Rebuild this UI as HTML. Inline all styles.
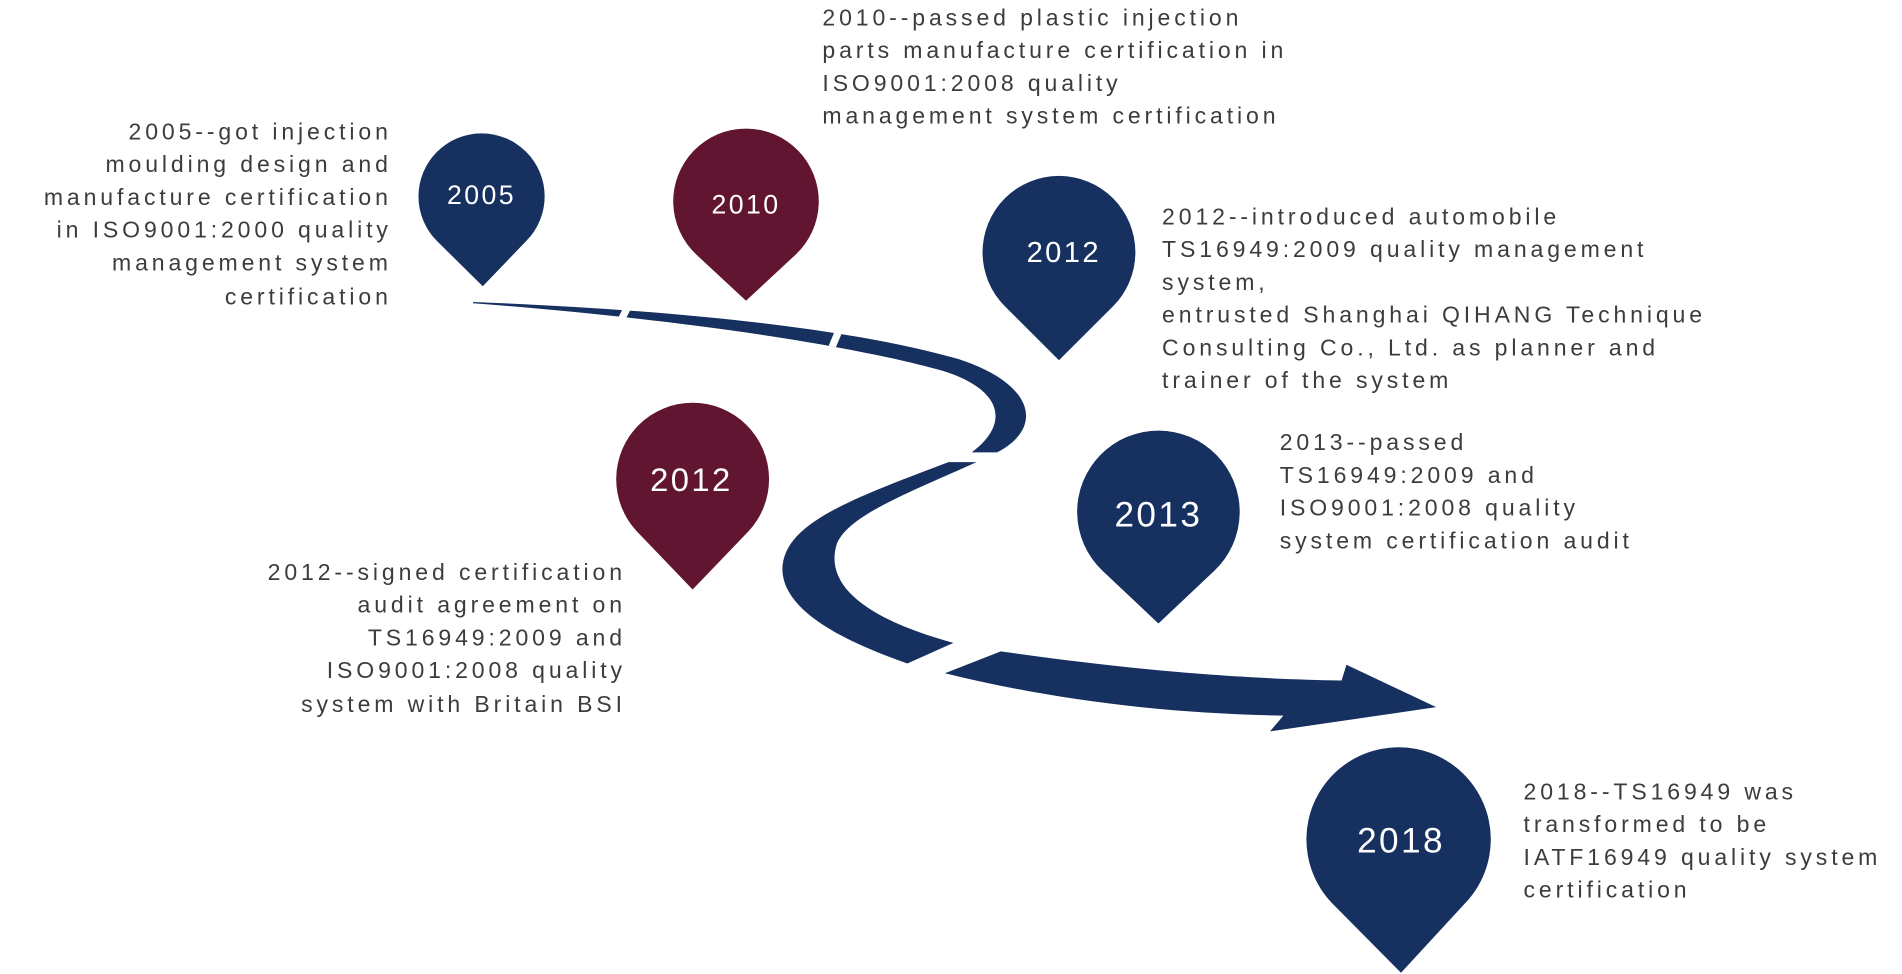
<!DOCTYPE html>
<html><head><meta charset="utf-8"><style>
html,body{margin:0;padding:0;background:#fff;overflow:hidden}
svg{display:block}
.t{font-family:"Liberation Sans",sans-serif;font-size:19px;letter-spacing:3.2px;fill:#3c3c3c}
.y{font-family:"Liberation Sans",sans-serif;fill:#fff;text-anchor:middle;letter-spacing:2px}
</style></head><body>
<svg width="1902" height="974" viewBox="0 0 1568 803" preserveAspectRatio="none" xmlns="http://www.w3.org/2000/svg">
<g fill="#16305f">
<path d="M390,249 C550,255 700,270 790,296 C852,316 862,352 822,373 L801,373 C832,350 828,322 778,306 C700,284 560,263 390,250 Z"/>
<path d="M782,381 L805,381 C745,408 700,425 690,448 C678,485 720,512 786,530 L748,547 C685,525 646,500 645,470 C645,432 700,412 782,381 Z"/>
<path d="M825,537 C950,555 1040,560 1106,561 L1110,548 L1184,583 L1047,603 L1058,590 C950,588 860,575 779,555 Z"/>
</g>
<g stroke="#fff" stroke-width="6">
<line x1="520" y1="248" x2="512" y2="264"/>
<line x1="696" y1="262" x2="686" y2="286"/>
</g>
<path d="M398,236 L360,198.5 A52,52 0 1 1 434,198.5 Z" fill="#16305f"/>
<path d="M615,248 L574.1,209.9 A60,60 0 1 1 655.9,209.9 Z" fill="#611530"/>
<path d="M873,297 L828.5,252.6 A63,63 0 1 1 917.5,252.6 Z" fill="#16305f"/>
<path d="M571,486 L525.5,438.6 A63,63 0 1 1 616.5,438.6 Z" fill="#611530"/>
<path d="M955,514 L909.1,470.8 A67,67 0 1 1 1000.9,470.8 Z" fill="#16305f"/>
<path d="M1155,802 L1098,744.5 A76,76 0 1 1 1208,744.5 Z" fill="#16305f"/>
<text class="y" x="397" y="168" font-size="22">2005</text>
<text class="y" x="615" y="176" font-size="22">2010</text>
<text class="y" x="877" y="216" font-size="24">2012</text>
<text class="y" x="570" y="405" font-size="27">2012</text>
<text class="y" x="955" y="434" font-size="29">2013</text>
<text class="y" x="1155" y="703" font-size="29">2018</text>
<g class="t" text-anchor="end">
<text x="323" y="115">2005--got injection</text>
<text x="323" y="142">moulding design and</text>
<text x="323" y="169">manufacture certification</text>
<text x="323" y="196">in ISO9001:2000 quality</text>
<text x="323" y="223">management system</text>
<text x="323" y="251">certification</text>
<text x="516" y="478">2012--signed certification</text>
<text x="516" y="505">audit agreement on</text>
<text x="516" y="532">TS16949:2009 and</text>
<text x="516" y="559">ISO9001:2008 quality</text>
<text x="516" y="587">system with Britain BSI</text>
</g>
<g class="t">
<text x="678" y="21">2010--passed plastic injection</text>
<text x="678" y="48">parts manufacture certification in</text>
<text x="678" y="75">ISO9001:2008 quality</text>
<text x="678" y="102">management system certification</text>
<text x="958" y="185">2012--introduced automobile</text>
<text x="958" y="212">TS16949:2009 quality management</text>
<text x="958" y="239">system,</text>
<text x="958" y="266">entrusted Shanghai QIHANG Technique</text>
<text x="958" y="293">Consulting Co., Ltd. as planner and</text>
<text x="958" y="320">trainer of the system</text>
<text x="1055" y="371">2013--passed</text>
<text x="1055" y="398">TS16949:2009 and</text>
<text x="1055" y="425">ISO9001:2008 quality</text>
<text x="1055" y="452">system certification audit</text>
<text x="1256" y="659">2018--TS16949 was</text>
<text x="1256" y="686">transformed to be</text>
<text x="1256" y="713">IATF16949 quality system</text>
<text x="1256" y="740">certification</text>
</g>
</svg>
</body></html>
